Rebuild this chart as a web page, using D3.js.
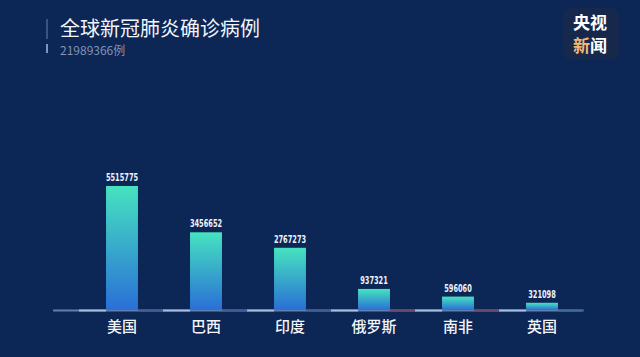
<!DOCTYPE html>
<html>
<head>
<meta charset="utf-8">
<script src="https://cdn.jsdelivr.net/npm/d3@7"></script>
<style>
  body { margin: 0; background: #0c2656; }
  svg { display: block; }
</style>
</head>
<body>
<svg id="chart" width="640" height="357"></svg>
<script>
// Data
const countries = ["美国", "巴西", "印度", "俄罗斯", "南非", "英国"];
const cases = [5515775, 3456652, 2767273, 937321, 596060, 321098];
const title = "全球新冠肺炎确诊病例";
const subtitle = "21989366例";
// colour of the dim axis piece right of each bar
const rightSegColors = ["#3f5f95", "#3f5f95", "#3f5f95", "#6a4a6e", "#6a4a6e", "#3f6a9a"];

const width = 640;
const height = 357;
const baseY = 310;
const svg = d3.select("#chart");

svg.append("rect").attr("width", width).attr("height", height).attr("fill", "#0c2656");

const defs = svg.append("defs");
const grad = defs.append("linearGradient")
    .attr("id", "barGrad")
    .attr("x1", 0).attr("y1", 0).attr("x2", 0).attr("y2", 1);
grad.append("stop").attr("offset", "0%").attr("stop-color", "#46e3c0");
grad.append("stop").attr("offset", "100%").attr("stop-color", "#2a6fd6");

// Scales
const x = d3.scaleBand()
    .domain(countries)
    .range([80, 584])
    .paddingInner(0.62)
    .paddingOuter(0.31);

const y = d3.scaleLinear()
    .domain([0, cases[0]])
    .range([baseY, 186]);

// Title block
svg.append("rect").attr("x", 46).attr("y", 19).attr("width", 2).attr("height", 20).attr("fill", "#3d5282");
svg.append("rect").attr("x", 46).attr("y", 44).attr("width", 2).attr("height", 9).attr("fill", "#8294bb");

svg.append("text")
    .attr("x", 60).attr("y", 36)
    .attr("font-family", "'Noto Sans CJK SC', sans-serif")
    .attr("font-size", 20)
    .attr("fill", "#f2f5fa")
    .text(title);

svg.append("text")
    .attr("x", 60).attr("y", 55)
    .attr("font-family", "'Noto Sans CJK SC', sans-serif")
    .attr("font-size", 12)
    .attr("fill", "#8393b4")
    .text(subtitle);

// Logo
svg.append("rect")
    .attr("x", 563).attr("y", 8).attr("width", 56).attr("height", 52)
    .attr("rx", 8)
    .attr("fill", "#16284c");
const logo = svg.append("g")
    .attr("font-family", "'Noto Sans CJK SC', sans-serif")
    .attr("font-size", 17)
    .attr("font-weight", 700)
    .attr("text-anchor", "middle");
logo.append("text").attr("x", 590).attr("y", 29).attr("fill", "#ffffff").text("央视");
logo.append("text").attr("x", 590).attr("y", 52).attr("fill", "#ffffff")
    .call(t => {
        t.append("tspan").attr("fill", "#f0b878").text("新");
        t.append("tspan").attr("fill", "#ffffff").text("闻");
    });

// Axis line
svg.append("line")
    .attr("x1", 53).attr("x2", 582)
    .attr("y1", baseY + 0.5).attr("y2", baseY + 0.5)
    .attr("stroke", "#5f7fb2")
    .attr("stroke-width", 2);

const segs = svg.append("g");
countries.forEach((c, i) => {
    const bx = x(c);
    segs.append("line")
        .attr("x1", bx - 27).attr("x2", bx)
        .attr("y1", baseY + 0.5).attr("y2", baseY + 0.5)
        .attr("stroke", "#a9bde0")
        .attr("stroke-width", 2);
    segs.append("line")
        .attr("x1", bx + x.bandwidth()).attr("x2", bx + x.bandwidth() + 26)
        .attr("y1", baseY + 0.5).attr("y2", baseY + 0.5)
        .attr("stroke", rightSegColors[i])
        .attr("stroke-width", 2);
});

// Bars
svg.append("g")
    .selectAll("rect")
    .data(cases)
    .join("rect")
    .attr("x", (d, i) => x(countries[i]))
    .attr("y", d => y(d))
    .attr("width", x.bandwidth())
    .attr("height", d => baseY - y(d))
    .attr("fill", "url(#barGrad)");

// Value labels (condensed look)
svg.append("g")
    .selectAll("text")
    .data(cases)
    .join("text")
    .attr("x", (d, i) => x(countries[i]) + x.bandwidth() / 2)
    .attr("y", d => y(d) - 5)
    .attr("text-anchor", "middle")
    .attr("font-family", "'DejaVu Sans Condensed', 'DejaVu Sans', sans-serif")
    .attr("font-weight", 700)
    .attr("font-size", 11)
    .attr("textLength", d => String(d).length * 4.6)
    .attr("lengthAdjust", "spacingAndGlyphs")
    .attr("fill", "#eef2fa")
    .text(d => d);

// Category labels
svg.append("g")
    .selectAll("text")
    .data(countries)
    .join("text")
    .attr("x", d => x(d) + x.bandwidth() / 2)
    .attr("y", 332)
    .attr("text-anchor", "middle")
    .attr("font-family", "'Noto Sans CJK SC', sans-serif")
    .attr("font-weight", 500)
    .attr("font-size", 15)
    .attr("fill", "#f2f5fa")
    .text(d => d);
</script>
</body>
</html>
